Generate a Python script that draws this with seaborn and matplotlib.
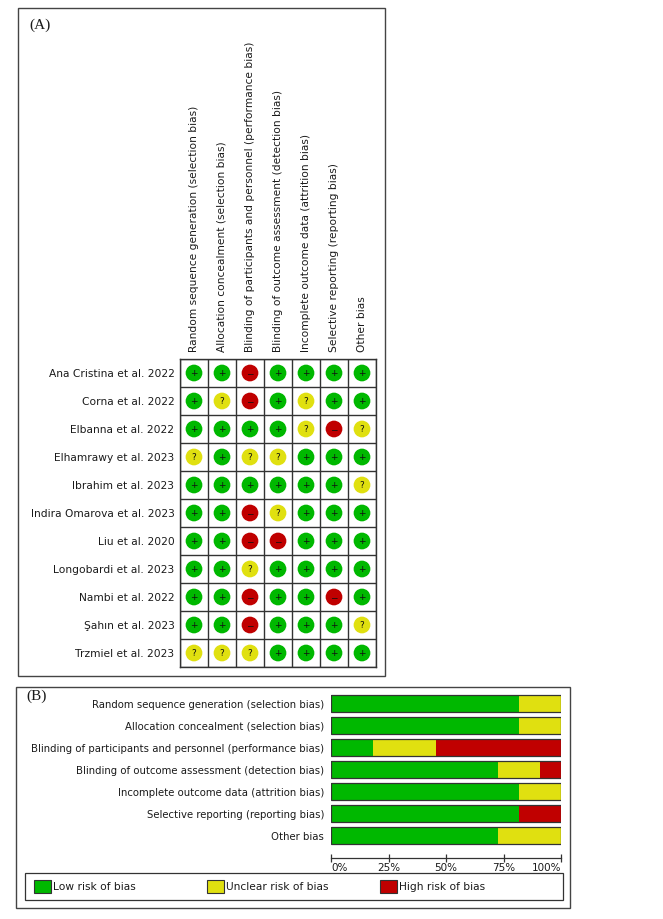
import numpy as np
import pandas as pd
import matplotlib
matplotlib.use("Agg")
import matplotlib.pyplot as plt
import seaborn as sns
from matplotlib.patches import Rectangle, Patch

studies = [
    "Ana Cristina et al. 2022",
    "Corna et al. 2022",
    "Elbanna et al. 2022",
    "Elhamrawy et al. 2023",
    "Ibrahim et al. 2023",
    "Indira Omarova et al. 2023",
    "Liu et al. 2020",
    "Longobardi et al. 2023",
    "Nambi et al. 2022",
    "Şahın et al. 2023",
    "Trzmiel et al. 2023",
]

domains = [
    "Random sequence generation (selection bias)",
    "Allocation concealment (selection bias)",
    "Blinding of participants and personnel (performance bias)",
    "Blinding of outcome assessment (detection bias)",
    "Incomplete outcome data (attrition bias)",
    "Selective reporting (reporting bias)",
    "Other bias",
]

# one string per study, one character per domain: + low, ? unclear, - high
ratings = [
    "++-++++",
    "+?-+?++",
    "++++?-?",
    "?+??+++",
    "++++++?",
    "++-?+++",
    "++--+++",
    "++?++++",
    "++-++-+",
    "++-+++?",
    "???++++",
]

levels = ["Low risk of bias", "Unclear risk of bias", "High risk of bias"]
code_to_level = {"+": levels[0], "?": levels[1], "-": levels[2]}
symbols = {"+": "+", "?": "?", "-": "\u2212"}

green = "#00b800"
yellow = "#e0e010"
red = "#c00000"
palette = {levels[0]: green, levels[1]: yellow, levels[2]: red}

W, H = 663, 919
ink = "#1a1a1a"

# long table for the grid
rows = []
for i, s in enumerate(studies):
    for j, d in enumerate(domains):
        c = ratings[i][j]
        rows.append({"row": i, "col": j, "study": s, "domain": d,
                     "code": c, "level": code_to_level[c]})
dfA = pd.DataFrame(rows)

# percentages per domain
counts = dfA.groupby(["domain", "level"]).size().unstack(fill_value=0)
counts = counts.reindex(index=domains, columns=levels, fill_value=0)
pct = counts.div(counts.sum(axis=1), axis=0) * 100
dfB = pd.DataFrame({
    "domain": domains,
    "low": pct[levels[0]].values,
    "low_unclear": (pct[levels[0]] + pct[levels[1]]).values,
    "total": pct.sum(axis=1).values,
})

sns.set_theme(style="white")
plt.rcParams["font.family"] = ["DejaVu Sans"]
plt.rcParams["text.color"] = ink
plt.rcParams["xtick.color"] = ink
plt.rcParams["ytick.color"] = ink

fig = plt.figure(figsize=(W / 100, H / 100), dpi=100)
fig.patch.set_facecolor("white")


def fx(px):
    return px / W


def fy(px):
    return 1 - px / H


# ---- panel A: traffic light grid
axA = fig.add_axes([fx(180), fy(667), fx(376) - fx(180), fy(359) - fy(667)])
sns.scatterplot(data=dfA, x="col", y="row", hue="level", palette=palette,
                s=145, linewidth=0, legend=False, ax=axA, zorder=3)
for _, r in dfA.iterrows():
    axA.text(r["col"], r["row"] + 0.03, symbols[r["code"]], ha="center", va="center",
             fontsize=6.5, color="#111111", zorder=4)
axA.set_xlim(-0.5, len(domains) - 0.5)
axA.set_ylim(len(studies) - 0.5, -0.5)
axA.set_xticks(range(len(domains)))
axA.set_xticklabels(domains, rotation=90, fontsize=7.7)
axA.xaxis.tick_top()
axA.set_yticks(range(len(studies)))
axA.set_yticklabels(studies, fontsize=7.7)
axA.set_xticks(np.arange(-0.5, len(domains), 1), minor=True)
axA.set_yticks(np.arange(-0.5, len(studies), 1), minor=True)
axA.grid(which="minor", color="#333333", linewidth=1)
axA.grid(which="major", visible=False)
axA.tick_params(which="both", length=0)
axA.tick_params(axis="x", pad=5)
axA.tick_params(axis="y", pad=4)
axA.set_xlabel("")
axA.set_ylabel("")
for sp in axA.spines.values():
    sp.set_color("#333333")
    sp.set_linewidth(1)

# ---- panel B: summary bars
axB = fig.add_axes([fx(331), fy(846.5), fx(561) - fx(331), fy(692.5) - fy(846.5)])
sns.barplot(data=dfB, y="domain", x="total", color=red, saturation=1,
            width=0.77, linewidth=0, errorbar=None, orient="h", ax=axB)
sns.barplot(data=dfB, y="domain", x="low_unclear", color=yellow, saturation=1,
            width=0.77, linewidth=0, errorbar=None, orient="h", ax=axB)
sns.barplot(data=dfB, y="domain", x="low", color=green, saturation=1,
            width=0.77, linewidth=0, errorbar=None, orient="h", ax=axB)
sns.barplot(data=dfB, y="domain", x="total", fill=False, width=0.77,
            edgecolor="#333333", linewidth=0.9, errorbar=None, orient="h", ax=axB)
axB.set_xlim(0, 100)
axB.set_ylim(len(domains) - 0.5, -0.5)
axB.set_xlabel("")
axB.set_ylabel("")
for s in ["left", "top", "right"]:
    axB.spines[s].set_visible(False)
axB.spines["bottom"].set_position(("outward", 8))
axB.spines["bottom"].set_color("#333333")
axB.spines["bottom"].set_linewidth(0.9)
ticks = [0, 25, 50, 75, 100]
axB.set_xticks(ticks)
axB.set_xticklabels([f"{t}%" for t in ticks], fontsize=7.5)
xl = axB.get_xticklabels()
xl[0].set_ha("left")
xl[-1].set_ha("right")
axB.tick_params(axis="x", direction="inout", length=6, width=0.9,
                color="#333333", pad=1, bottom=True)
axB.tick_params(axis="y", length=0, pad=5, labelsize=7.3)

# ---- frames, panel labels, legend
fig.add_artist(Rectangle((fx(18), fy(676)), fx(385) - fx(18), fy(8) - fy(676),
                         transform=fig.transFigure, fill=False,
                         edgecolor="#444444", linewidth=1))
fig.add_artist(Rectangle((fx(16), fy(908)), fx(570) - fx(16), fy(687) - fy(908),
                         transform=fig.transFigure, fill=False,
                         edgecolor="#444444", linewidth=1))
fig.add_artist(Rectangle((fx(25), fy(900)), fx(563) - fx(25), fy(873) - fy(900),
                         transform=fig.transFigure, fill=False,
                         edgecolor="#333333", linewidth=0.9))
fig.text(fx(29), fy(25), "(A)", family=["Liberation Serif"], fontsize=11,
         va="center", ha="left")
fig.text(fx(26), fy(696), "(B)", family=["Liberation Serif"], fontsize=11,
         va="center", ha="left")

# one legend entry per slot, the slots are evenly spaced in the box
for lvl, left_px in zip(levels, [34, 207, 380]):
    h = Patch(facecolor=palette[lvl], edgecolor="#333333", linewidth=0.8, label=lvl)
    fig.legend(handles=[h], loc="center left", bbox_to_anchor=(fx(left_px), fy(886.5)),
               frameon=False, fontsize=7.7, handlelength=1.55, handleheight=1.55,
               handletextpad=0.25, borderpad=0, borderaxespad=0)

fig.savefig("out.png", dpi=100, facecolor="white")
